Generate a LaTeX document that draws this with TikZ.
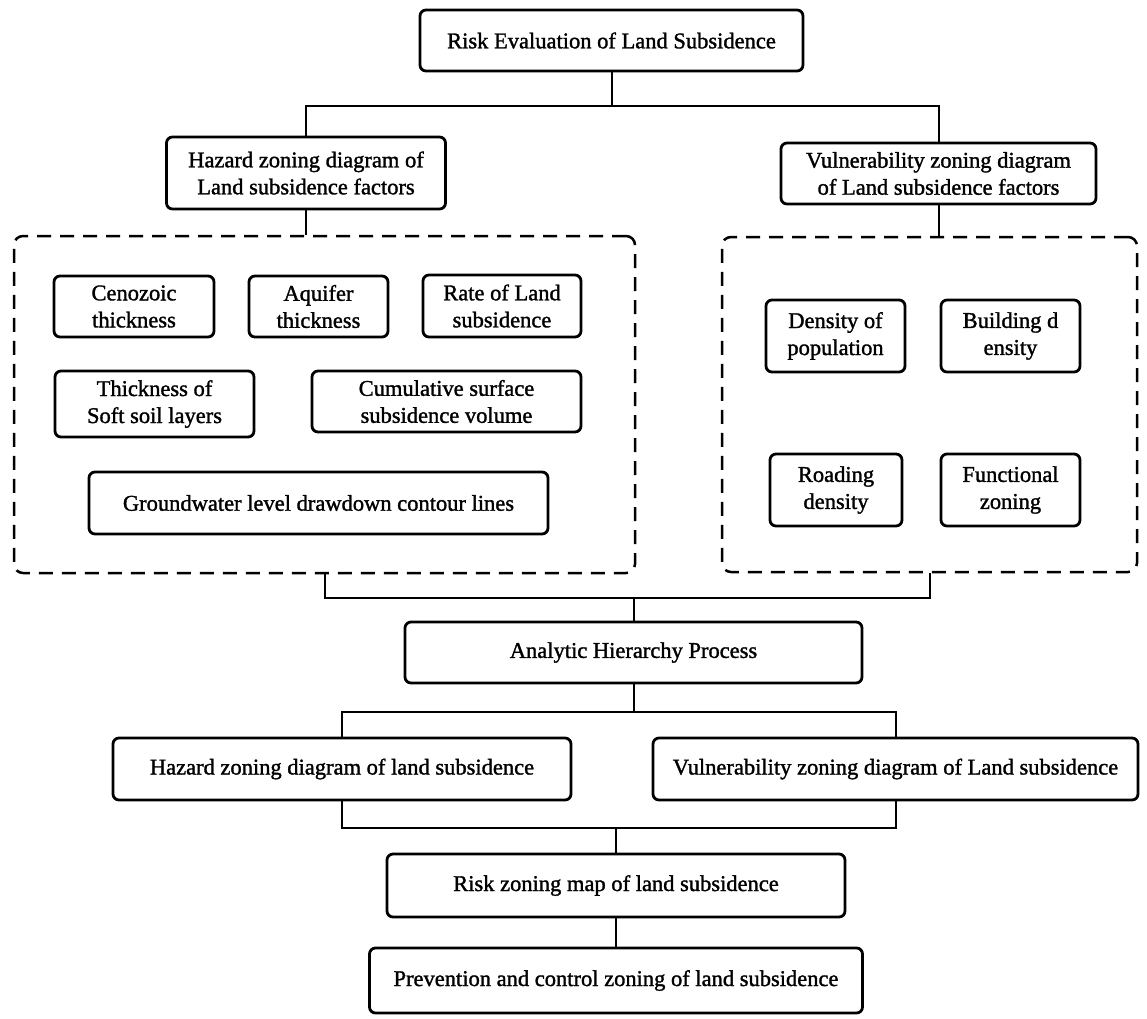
\documentclass[tikz,border=0pt]{standalone}
\usepackage{fontspec}
\setmainfont{Liberation Serif}
\newfontfamily\diagfont{Liberation Serif}[FakeBold=1.4]
\begin{document}
\begin{tikzpicture}[x=1pt,y=-1pt,
  box/.style={draw=black, line width=2.8pt, rounded corners=6pt, inner sep=0pt,
    align=center, font=\diagfont\fontsize{22.5}{27}\selectfont, fill=white},
  dbox/.style={draw=black, line width=2.5pt, rounded corners=9pt, inner sep=0pt,
    dash pattern=on 14pt off 9pt},
  conn/.style={draw=black, line width=2pt}]
\useasboundingbox (0,0) rectangle (1147,1018);
% dashed groups
\node[dbox, minimum width=621pt, minimum height=337pt] (dashL) at (324.5,404.5) {};
\node[dbox, minimum width=415pt, minimum height=335pt] (dashR) at (929.5,404.5) {};
% top
\node[box, minimum width=383pt, minimum height=61pt] (top) at (611.5,40.5) {Risk Evaluation of Land Subsidence};
\node[box, minimum width=279pt, minimum height=72pt] (haz) at (306,173) {Hazard zoning diagram of\\Land subsidence factors};
\node[box, minimum width=315pt, minimum height=61pt] (vul) at (938.5,173.5) {Vulnerability zoning diagram\\of Land subsidence factors};
% hazard factors
\node[box, minimum width=160pt, minimum height=61pt] (ceno) at (134,306.5) {Cenozoic\\thickness};
\node[box, minimum width=139pt, minimum height=61pt] (aqui) at (318.5,306.5) {Aquifer\\thickness};
\node[box, minimum width=158pt, minimum height=62pt] (rate) at (502,306) {Rate of Land\\subsidence};
\node[box, minimum width=199pt, minimum height=66pt] (thick) at (154.5,404) {Thickness of\\Soft soil layers};
\node[box, minimum width=269pt, minimum height=61pt] (cumu) at (446.5,401.5) {Cumulative surface\\subsidence volume};
\node[box, minimum width=459pt, minimum height=62pt] (ground) at (318.5,503) {Groundwater level drawdown contour lines};
% vulnerability factors
\node[box, minimum width=139pt, minimum height=72pt] (dens) at (835.5,336) {Density of\\population};
\node[box, minimum width=139pt, minimum height=72pt] (build) at (1010.5,336) {Building d\\ensity};
\node[box, minimum width=132pt, minimum height=72pt] (road) at (836,490) {Roading\\density};
\node[box, minimum width=139pt, minimum height=72pt] (func) at (1010.5,490) {Functional\\zoning};
% lower part
\node[box, minimum width=457pt, minimum height=61pt] (ahp) at (633.5,652.5) {Analytic Hierarchy Process};
\node[box, minimum width=458pt, minimum height=62pt] (hz2) at (342,769) {Hazard zoning diagram of land subsidence};
\node[box, minimum width=485pt, minimum height=62pt] (vz2) at (895.5,769) {Vulnerability zoning diagram of Land subsidence};
\node[box, minimum width=458pt, minimum height=63pt] (risk) at (616,885.5) {Risk zoning map of land subsidence};
\node[box, minimum width=493pt, minimum height=65pt] (prev) at (616,980.5) {Prevention and control zoning of land subsidence};
% connectors
\draw[conn] (top.south) -- ++(0,34) coordinate (jt) -| (haz.north);
\draw[conn] (jt) -| (vul.north);
\draw[conn] (haz.south) -- (haz.south |- dashL.north);
\draw[conn] (vul.south) -- (vul.south |- dashR.north);
\draw[conn] (dashL.south) -- ++(0,24) coordinate (jm) -| (dashR.south);
\draw[conn] (ahp.north) -- (ahp.north |- jm);
\draw[conn] (ahp.south) -- ++(0,28) coordinate (ja) -| (hz2.north);
\draw[conn] (ja) -| (vz2.north);
\draw[conn] (hz2.south) -- ++(0,27) coordinate (jb) -| (vz2.south);
\draw[conn] (risk.north) -- (risk.north |- jb);
\draw[conn] (risk.south) -- (prev.north);
\end{tikzpicture}
\end{document}
